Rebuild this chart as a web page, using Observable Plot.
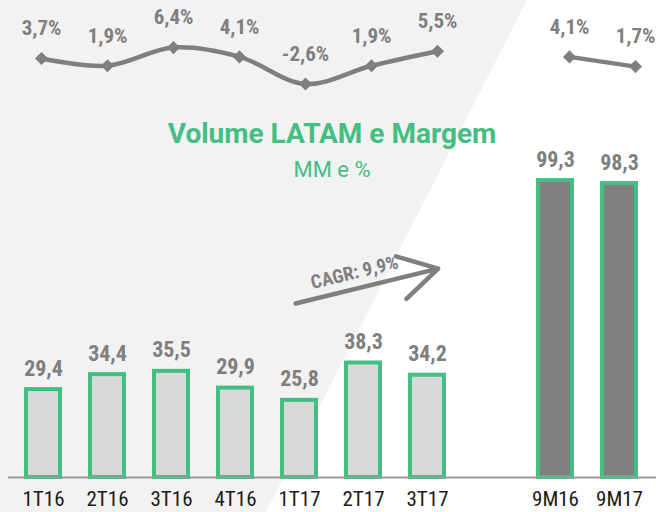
<!DOCTYPE html>
<html><head><meta charset="utf-8">
<script src="https://cdn.jsdelivr.net/npm/d3@7"></script>
<script src="https://cdn.jsdelivr.net/npm/@observablehq/plot@0.6"></script>
<style>
body{margin:0;background:#fff;}
#wrap{position:relative;width:656px;height:512px;overflow:hidden;background:#fff;}
#bg{position:absolute;left:0;top:0;width:656px;height:512px;background:#f2f2f2;clip-path:polygon(0 0,527px 0,266px 512px,0 512px);}
.layer{position:absolute;left:0;top:0;}
.layer svg{overflow:visible;}
#title{position:absolute;left:0;width:664px;top:117px;text-align:center;font:bold 28px Roboto, sans-serif;line-height:34px;color:#43bf83;}
#subtitle{position:absolute;left:0;width:664px;top:156px;text-align:center;font:22px Roboto, sans-serif;line-height:28px;color:#43bf83;}
</style>
</head><body>
<div id="wrap"><div id="bg"></div><div class="layer" id="bars"></div><div class="layer" id="line"></div>
<div id="title">Volume LATAM e Margem</div><div id="subtitle">MM e %</div></div>
<script>
const periods = ["1T16","2T16","3T16","4T16","1T17","2T17","3T17"," ","9M16","9M17"];
const categories = ["1T16","2T16","3T16","4T16","1T17","2T17","3T17","9M16","9M17"];
const volume = [29.4,34.4,35.5,29.9,25.8,38.3,34.2,99.3,98.3];
const margin = [3.7,1.9,6.4,4.1,-2.6,1.9,5.5,4.1,1.7];
const groups = ["T","T","T","T","T","T","T","9M","9M"];
const cagr = [{from:"1T17", to:"3T17", y1:58.5, y2:69, label:"CAGR: 9,9%", at:"2T17", y:68.5}];

const FONT = "'Roboto Condensed','Liberation Sans Narrow','Arial Narrow','DejaVu Sans Condensed',sans-serif";
const fmt = d3.formatLocale({decimal:",",thousands:".",grouping:[3],currency:["",""],minus:"-"}).format(".1f");
const rows = categories.map((c,i)=>({cat:c, vol:volume[i], m:margin[i], g:groups[i]}));
const GREEN = "#43bf83", GRAY = "#7f7f7f";

const bars = Plot.plot({
  width:656, height:512, marginTop:0, marginBottom:35, marginLeft:8, marginRight:0,
  style:{background:"transparent", fontFamily:FONT},
  x:{type:"band", domain:periods, range:[7.67,654.33], paddingInner:0.47, paddingOuter:0.235, label:null},
  y:{domain:[0,100], range:[477,178], axis:null},
  color:{domain:["T","9M"], range:["#d9d9d9", GRAY]},
  marks:[
    Plot.barY(rows, {x:"cat", y:"vol", fill:"g", stroke:GREEN, strokeWidth:4}),
    Plot.ruleY([0], {stroke:"#9a9a9a", strokeWidth:2}),
    Plot.text(rows, {x:"cat", y:"vol", text:d=>fmt(d.vol), dy:-21, fontSize:22, fontWeight:"bold", fill:GRAY}),
    Plot.arrow(cagr, {x1:"from", x2:"to", y1:"y1", y2:"y2", stroke:GRAY, strokeWidth:4.5, headLength:20, insetStart:-4, insetEnd:-11}),
    Plot.text(cagr, {x:"at", y:"y", text:"label", dx:-9, rotate:-13.6, fontSize:19, fontWeight:"bold", fill:GRAY}),
    Plot.axisX({tickSize:0, tickPadding:14, fontSize:21, fill:"#1a1a1a", label:null})
  ]
});
document.getElementById("bars").appendChild(bars);

const line = Plot.plot({
  width:656, height:110, margin:0,
  style:{background:"transparent", fontFamily:FONT, overflow:"visible"},
  x:{type:"point", domain:periods, range:[40,636], padding:0, axis:null},
  y:{domain:[0,10], range:[73,32.5], axis:null},
  marks:[
    Plot.line(rows, {x:"cat", y:"m", z:"g", curve:"catmull-rom", stroke:GRAY, strokeWidth:4.5}),
    Plot.dot(rows, {x:"cat", y:"m", symbol:"diamond2", r:5.9, fill:GRAY, stroke:null}),
    Plot.text(rows, {x:"cat", y:"m", text:d=>fmt(d.m)+"%", dy:-30, fontSize:21, fontWeight:"bold", fill:GRAY})
  ]
});
document.getElementById("line").appendChild(line);
</script>
</body></html>
